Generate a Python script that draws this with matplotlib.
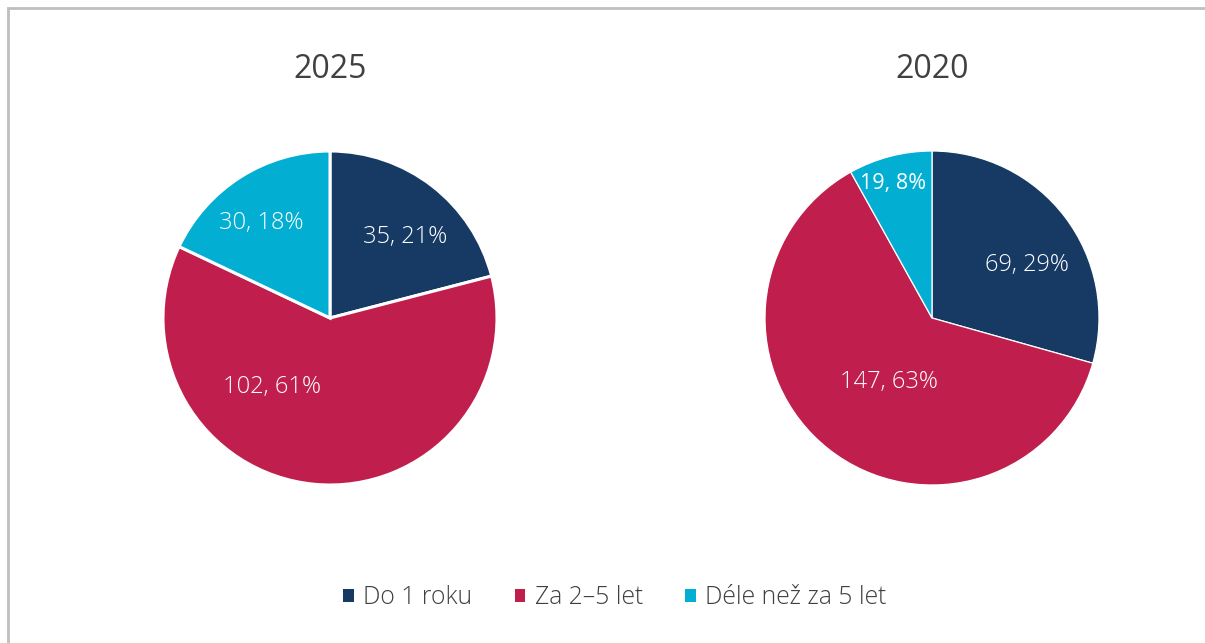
import numpy as np
import matplotlib
matplotlib.use("Agg")
from matplotlib import pyplot as plt
from matplotlib.patches import Patch, Rectangle

plt.rcParams['font.family'] = ['Open Sans', 'DejaVu Sans']

categories = ["Do 1 roku", "Za 2–5 let", "Déle než za 5 let"]
years = ["2025", "2020"]
values_2025 = [35, 102, 30]
values_2020 = [69, 147, 19]
colors = ["#163a64", "#c01f4d", "#02afd3"]

# label placement per slice: (angle in degrees, fraction of radius)
label_pos = {
    "2025": [(47, 0.66), (-130, 0.54), (126, 0.70)],
    "2020": [(29, 0.65), (-124, 0.46), (106, 0.84)],
}
label_weight = {"2025": ["light"] * 3, "2020": ["light", "light", "normal"]}
label_size = {"2025": [17, 17, 17], "2020": [17, 17, 15.5]}

W, H = 1205, 643
fig = plt.figure(figsize=(W / 100, H / 100), dpi=100)

# border (only top and left visible)
fig.add_artist(Rectangle((8 / W, -0.05), 1.1, (H - 8) / H + 0.05, transform=fig.transFigure,
                         fill=False, edgecolor="#bfbfbf", linewidth=2))

pies = [(years[0], values_2025, 330, 318, 167, 2.2),
        (years[1], values_2020, 932, 318, 167, 0.9)]

for year, vals, cx, cy, r, lw in pies:
    ax = fig.add_axes([(cx - r) / W, (H - cy - r) / H, 2 * r / W, 2 * r / H])
    ax.pie(vals, colors=colors, startangle=90, counterclock=False,
           wedgeprops=dict(edgecolor="white", linewidth=lw))
    ax.set_xlim(-1, 1)
    ax.set_ylim(-1, 1)
    ax.axis("off")
    total = sum(vals)
    for v, (ang, d), wgt, fs in zip(vals, label_pos[year], label_weight[year], label_size[year]):
        a = np.deg2rad(ang)
        ax.text(d * np.cos(a), d * np.sin(a), "%d, %d%%" % (v, round(100 * v / total)),
                ha="center", va="center", color="white", fontsize=fs, fontweight=wgt)
    fig.text(cx / W, 1 - 70 / H, year, ha="center", va="center", fontsize=23, color="#404040")

handles = [Patch(facecolor=c, edgecolor="none") for c in colors]
fig.legend(handles, categories, loc="center", bbox_to_anchor=(615 / W, 1 - 598 / H), ncol=3,
           frameon=False, handlelength=0.42, handleheight=0.42,
           handletextpad=0.4, columnspacing=1.7, labelcolor="#404040",
           prop=dict(family=['Open Sans', 'DejaVu Sans'], weight='light', size=17.8))

fig.savefig("out.png", dpi=100)
